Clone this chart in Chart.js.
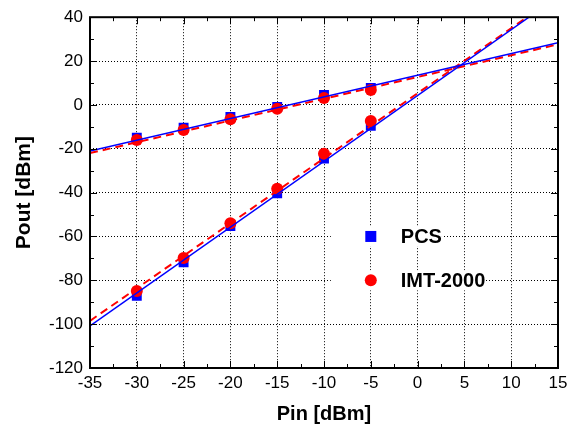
<!DOCTYPE html>
<html>
<head>
<meta charset="utf-8">
<script src="https://cdn.jsdelivr.net/npm/chart.js@4"></script>
<style>
  html, body { margin: 0; padding: 0; background: #fff; }
</style>
</head>
<body>
<canvas id="chart" width="583" height="430"></canvas>
<script>
// measured points (Pin in dBm)
const pinLevels = [-30, -25, -20, -15, -10, -5];
const pcsFund = [-15, -10.4, -5.5, -0.9, 4.5, 7.7];
const pcsIm3 = [-87.1, -71.8, -55.3, -40.3, -24.5, -9.5];
const imtFund = [-16, -11.4, -6.6, -1.8, 3.2, 6.8];
const imtIm3 = [-84.9, -69.8, -54, -38.2, -22.3, -7.3];

// fitted lines (end points)
const fundFitPin = [-35, 15];
const pcsFundFit = [-21, 28.3];
const imtFundFit = [-22, 27.6];
const pcsIm3FitPin = [-35, 11.9];
const pcsIm3Fit = [-100.8, 40];
const imtIm3FitPin = [-35, 11.7];
const imtIm3Fit = [-98.5, 40];

// legend
const legendLabels = ["PCS", "IMT-2000"];
const legendPin = -5;
const legendPout = [-60, -80];

const BLUE = "#0000ff";
const RED = "#ff0000";
const FONT = "Arial, 'Liberation Sans', sans-serif";

function pts(xs, ys) {
    return xs.map((x, i) => ({x: x, y: ys[i]}));
}

const pcsPoints = pts(pinLevels, pcsFund).concat(pts(pinLevels, pcsIm3));
const imtPoints = pts(pinLevels, imtFund).concat(pts(pinLevels, imtIm3));

// frame, inward ticks and the in-plot legend
const framePlugin = {
    id: "frame",
    afterDatasetsDraw(chart) {
        const {ctx, chartArea: a, scales: {x, y}} = chart;
        ctx.save();

        // legend boxes
        ctx.font = "bold 20px " + FONT;
        ctx.textBaseline = "middle";
        const lx = x.getPixelForValue(legendPin);
        legendLabels.forEach((label, i) => {
            const ly = y.getPixelForValue(legendPout[i]);
            const tw = ctx.measureText(label).width;
            ctx.fillStyle = "#fff";
            ctx.fillRect(lx - 40, ly - 10, 70 + tw, 20);
            if (i === 0) {
                ctx.fillStyle = BLUE;
                ctx.fillRect(lx - 5.5, ly - 5.5, 11, 11);
            } else {
                ctx.fillStyle = RED;
                ctx.beginPath();
                ctx.arc(lx, ly, 6, 0, Math.PI * 2);
                ctx.fill();
            }
            ctx.fillStyle = "#000";
            ctx.fillText(label, lx + 30, ly + 1);
        });

        // ticks on all four sides, pointing in
        ctx.strokeStyle = "#000";
        ctx.lineWidth = 1;
        ctx.beginPath();
        for (let v = x.min; v <= x.max + 0.01; v += 2.5) {
            const px = Math.round(x.getPixelForValue(v)) + 0.5;
            const len = (Math.abs(v % 5) < 0.01) ? 7 : 4;
            ctx.moveTo(px, a.bottom); ctx.lineTo(px, a.bottom - len);
            ctx.moveTo(px, a.top); ctx.lineTo(px, a.top + len);
        }
        for (let v = y.min; v <= y.max + 0.01; v += 10) {
            const py = Math.round(y.getPixelForValue(v)) + 0.5;
            const len = (Math.abs(v % 20) < 0.01) ? 7 : 4;
            ctx.moveTo(a.left, py); ctx.lineTo(a.left + len, py);
            ctx.moveTo(a.right, py); ctx.lineTo(a.right - len, py);
        }
        ctx.stroke();

        ctx.lineWidth = 2;
        ctx.strokeRect(a.left, a.top, a.right - a.left, a.bottom - a.top);
        ctx.restore();
    }
};

new Chart(document.getElementById("chart"), {
    type: "scatter",
    data: {
        datasets: [
            {
                label: "PCS fit fund", data: pts(fundFitPin, pcsFundFit),
                showLine: true, borderColor: BLUE, borderWidth: 1.5, pointRadius: 0, order: 1
            },
            {
                label: "PCS fit IM3", data: pts(pcsIm3FitPin, pcsIm3Fit),
                showLine: true, borderColor: BLUE, borderWidth: 1.5, pointRadius: 0, order: 1
            },
            {
                label: "IMT fit fund", data: pts(fundFitPin, imtFundFit),
                showLine: true, borderColor: RED, borderWidth: 2, borderDash: [8, 5], pointRadius: 0, order: 2
            },
            {
                label: "IMT fit IM3", data: pts(imtIm3FitPin, imtIm3Fit),
                showLine: true, borderColor: RED, borderWidth: 2, borderDash: [8, 5], pointRadius: 0, order: 2
            },
            {
                label: "IMT-2000", data: imtPoints, pointStyle: "circle", pointRadius: 6,
                backgroundColor: RED, borderColor: RED, borderWidth: 0, order: 3
            },
            {
                label: "PCS", data: pcsPoints, pointStyle: "rect", pointRadius: 7,
                backgroundColor: BLUE, borderColor: BLUE, borderWidth: 0, order: 4
            }
        ]
    },
    options: {
        responsive: false,
        animation: false,
        layout: {padding: {left: 0, right: 25, top: 16, bottom: 0}},
        plugins: {
            legend: {display: false},
            tooltip: {enabled: false}
        },
        scales: {
            x: {
                type: "linear", min: -35, max: 15,
                ticks: {stepSize: 5, color: "#000", padding: 5, font: {family: FONT, size: 17}},
                grid: {color: "#000", lineWidth: 1, drawTicks: false},
                border: {display: false, dash: [1, 2]},
                title: {display: true, text: "Pin [dBm]", color: "#000", padding: {top: 0, bottom: 4},
                    font: {family: FONT, size: 20, weight: "bold"}},
                afterFit: s => { s.height = 62; }
            },
            y: {
                type: "linear", min: -120, max: 40,
                ticks: {stepSize: 20, color: "#000", padding: 7, font: {family: FONT, size: 17}},
                grid: {color: "#000", lineWidth: 1, drawTicks: false},
                border: {display: false, dash: [1, 2]},
                title: {display: true, text: "Pout [dBm]", color: "#000", padding: {top: 12, bottom: 0},
                    font: {family: FONT, size: 21, weight: "bold"}},
                afterFit: s => { s.width = 90; }
            }
        }
    },
    plugins: [framePlugin]
});
</script>
</body>
</html>
